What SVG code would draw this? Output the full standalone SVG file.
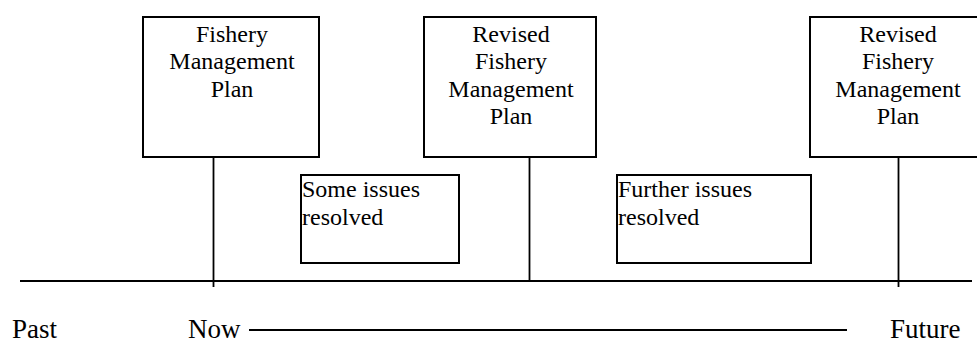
<svg xmlns="http://www.w3.org/2000/svg" width="977" height="345" viewBox="0 0 977 345">
<style>
rect{fill:#fff;stroke:#000;stroke-width:2}
line{stroke:#000;stroke-width:1.8}
text{font-family:"Liberation Serif","Times New Roman",serif;fill:#000}
.c{font-size:24px;text-anchor:middle}
.l{font-size:24px}
.b{font-size:27px}
</style>
<rect width="977" height="345" style="fill:#fff;stroke:none"/>
<g id="connectors">
<line x1="20" y1="281" x2="972" y2="281"/>
<line x1="213.5" y1="157" x2="213.5" y2="287"/>
<line x1="529.5" y1="157" x2="529.5" y2="281"/>
<line x1="898.5" y1="157" x2="898.5" y2="287"/>
<line x1="249" y1="330" x2="847" y2="330"/>
</g>
<g id="fmp1">
<rect x="143" y="17" width="176" height="140"/>
<text class="c" x="232"><tspan x="232" y="41.5">Fishery</tspan><tspan x="232" y="69">Management</tspan><tspan x="232" y="96.5">Plan</tspan></text>
</g>
<g id="fmp2">
<rect x="424" y="17" width="172" height="140"/>
<text class="c"><tspan x="511" y="41.5">Revised</tspan><tspan x="511" y="69">Fishery</tspan><tspan x="511" y="96.5">Management</tspan><tspan x="511" y="124">Plan</tspan></text>
</g>
<g id="fmp3">
<rect x="810" y="17" width="180" height="140"/>
<text class="c"><tspan x="898" y="41.5">Revised</tspan><tspan x="898" y="69">Fishery</tspan><tspan x="898" y="96.5">Management</tspan><tspan x="898" y="124">Plan</tspan></text>
</g>
<g id="some">
<rect x="301" y="175" width="158" height="88"/>
<text class="l"><tspan x="302" y="197">Some issues</tspan><tspan x="302" y="225">resolved</tspan></text>
</g>
<g id="further">
<rect x="617" y="175" width="194" height="88"/>
<text class="l"><tspan x="618" y="197">Further issues</tspan><tspan x="618" y="225">resolved</tspan></text>
</g>
<g id="labels">
<text class="b" x="12" y="338">Past</text>
<text class="b" x="188" y="338">Now</text>
<text class="b" x="890" y="338">Future</text>
</g>
</svg>
